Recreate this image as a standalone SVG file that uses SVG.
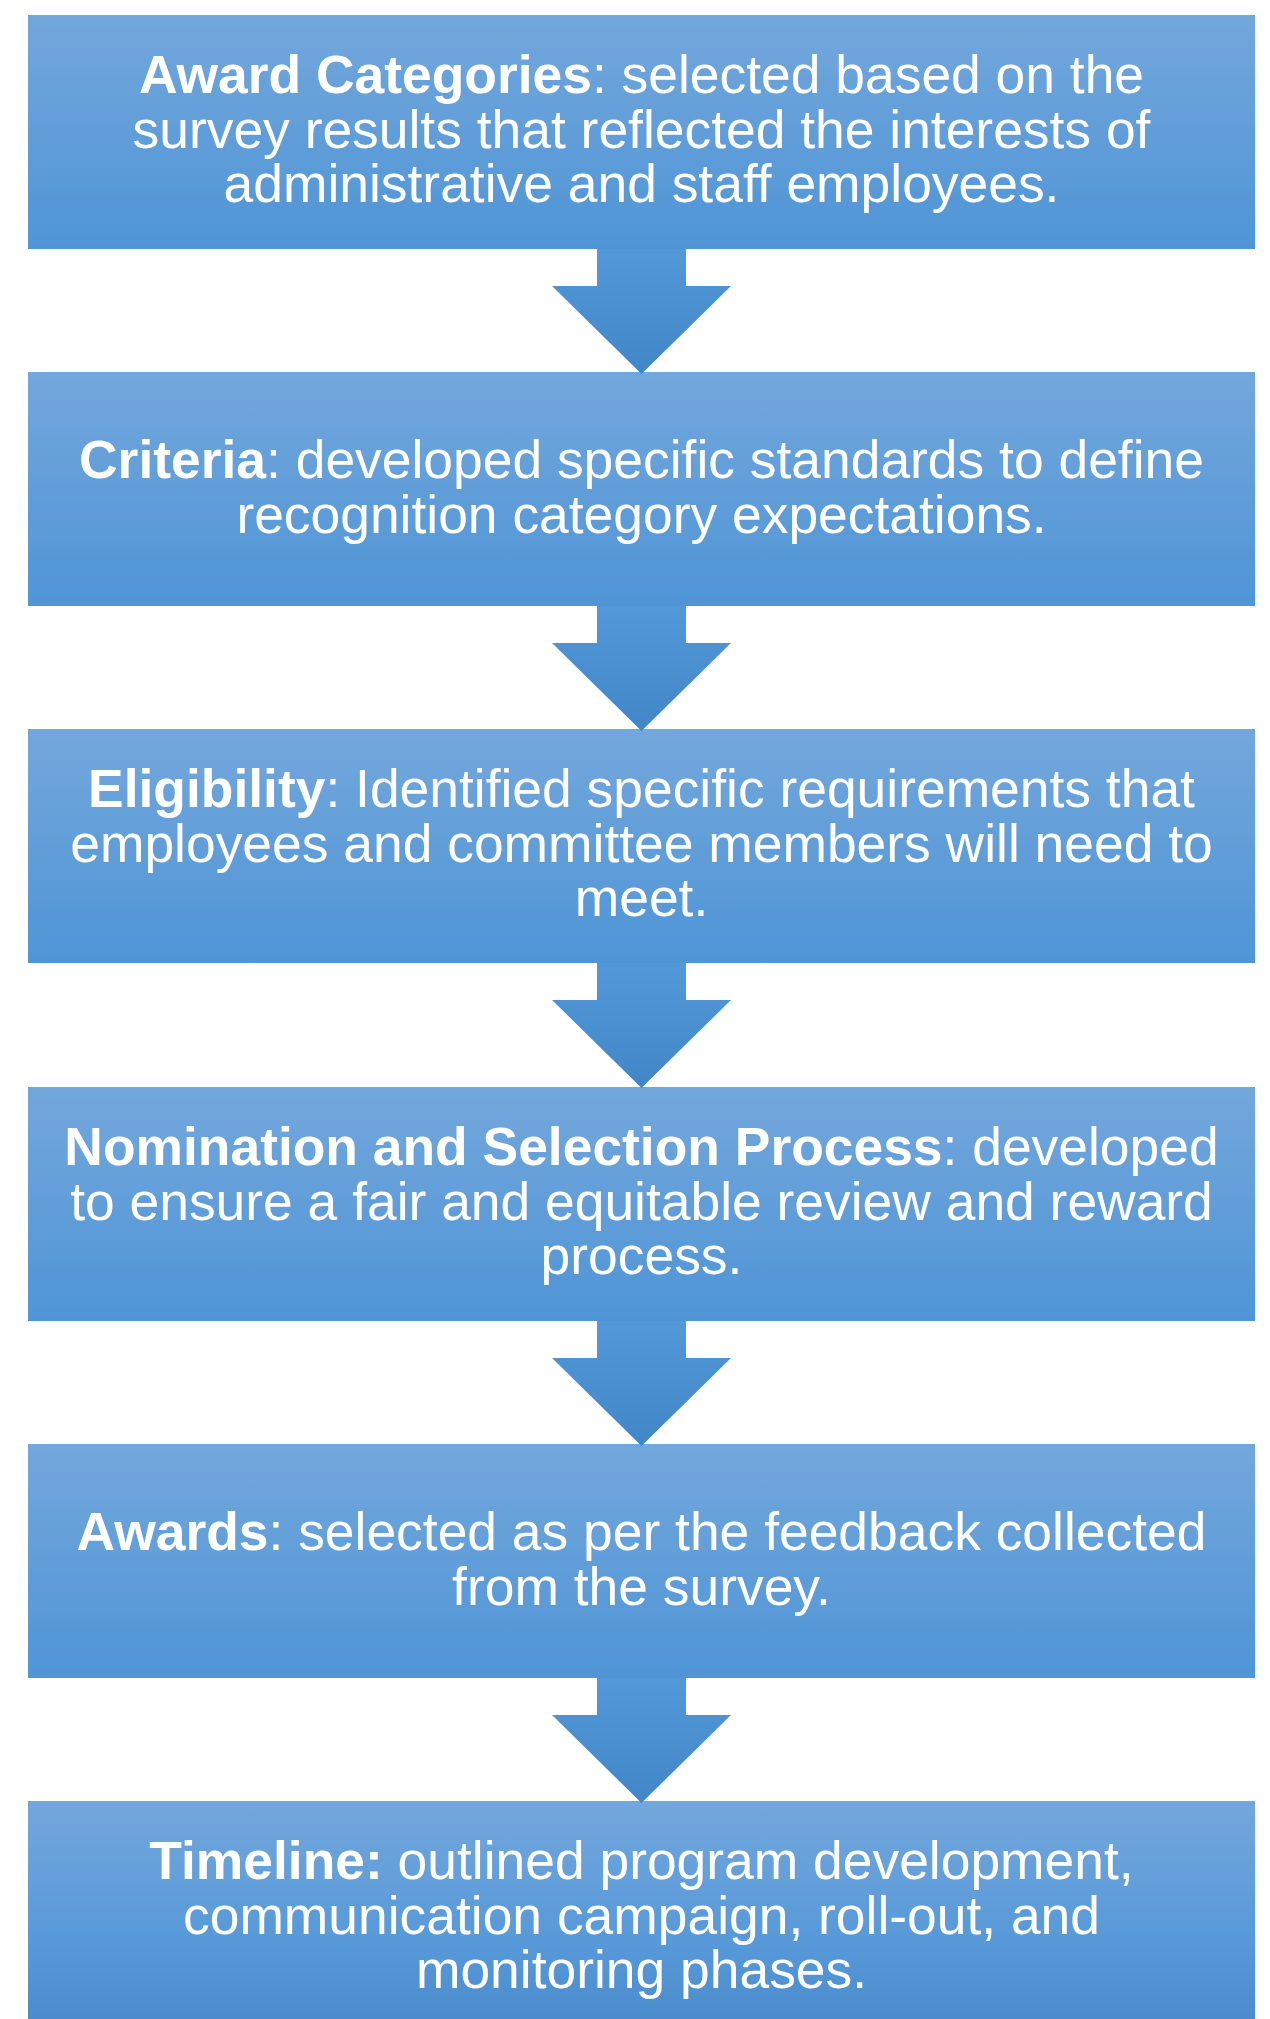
<svg xmlns="http://www.w3.org/2000/svg" width="1270" height="2019" viewBox="0 0 1270 2019">
  <defs>
    <linearGradient id="boxFill" x1="0" y1="0" x2="0" y2="1">
      <stop offset="0" stop-color="#73a7dc"/>
      <stop offset="1" stop-color="#4f95d6"/>
    </linearGradient>
    <linearGradient id="lastFill" x1="0" y1="0" x2="0" y2="1">
      <stop offset="0" stop-color="#73a7dc"/>
      <stop offset="0.6" stop-color="#5799d9"/>
      <stop offset="1" stop-color="#4789c9"/>
    </linearGradient>
    <linearGradient id="arrowFill" x1="0" y1="0" x2="0" y2="1">
      <stop offset="0" stop-color="#5399d9"/>
      <stop offset="1" stop-color="#4187c8"/>
    </linearGradient>
    <path id="downArrow" d="M597,0 H686 V37 H731 L641.5,125 L552,37 H597 Z"/>
    <style>
      .box { fill: url(#boxFill); }
      .label { font-family: "Liberation Sans", Arial, sans-serif; font-size: 53.4px; fill: #ffffff; text-anchor: middle; }
      .b { font-weight: bold; }
      .arrow { fill: url(#arrowFill); }
    </style>
  </defs>

  <!-- step boxes -->
  <g id="award-categories">
    <rect class="box" x="28" y="15" width="1227" height="234"/>
    <text class="label" x="641.5" y="93"><tspan class="b">Award Categories</tspan>: selected based on the</text>
    <text class="label" x="641.5" y="148">survey results that reflected the interests of</text>
    <text class="label" x="641.5" y="202">administrative and staff employees.</text>
  </g>

  <g id="criteria">
    <rect class="box" x="28" y="372" width="1227" height="234"/>
    <text class="label" x="641.5" y="478"><tspan class="b">Criteria</tspan>: developed specific standards to define</text>
    <text class="label" x="641.5" y="533">recognition category expectations.</text>
  </g>

  <g id="eligibility">
    <rect class="box" x="28" y="729" width="1227" height="234"/>
    <text class="label" x="641.5" y="807"><tspan class="b">Eligibility</tspan>: Identified specific requirements that</text>
    <text class="label" x="641.5" y="862">employees and committee members will need to</text>
    <text class="label" x="641.5" y="916">meet.</text>
  </g>

  <g id="nomination-selection">
    <rect class="box" x="28" y="1087" width="1227" height="234"/>
    <text class="label" x="641.5" y="1165"><tspan class="b">Nomination and Selection Process</tspan>: developed</text>
    <text class="label" x="641.5" y="1220">to ensure a fair and equitable review and reward</text>
    <text class="label" x="641.5" y="1274">process.</text>
  </g>

  <g id="awards">
    <rect class="box" x="28" y="1444" width="1227" height="234"/>
    <text class="label" x="641.5" y="1550"><tspan class="b">Awards</tspan>: selected as per the feedback collected</text>
    <text class="label" x="641.5" y="1605">from the survey.</text>
  </g>

  <g id="timeline">
    <rect x="28" y="1801" width="1227" height="234" fill="url(#lastFill)"/>
    <text class="label" x="641.5" y="1879"><tspan class="b">Timeline:</tspan> outlined program development,</text>
    <text class="label" x="641.5" y="1934">communication campaign, roll-out, and</text>
    <text class="label" x="641.5" y="1988">monitoring phases.</text>
  </g>

  <!-- block arrows between steps -->
  <g id="connectors">
    <use href="#downArrow" class="arrow" y="249"/>
    <use href="#downArrow" class="arrow" y="606"/>
    <use href="#downArrow" class="arrow" y="963"/>
    <use href="#downArrow" class="arrow" y="1321"/>
    <use href="#downArrow" class="arrow" y="1678"/>
  </g>
</svg>
